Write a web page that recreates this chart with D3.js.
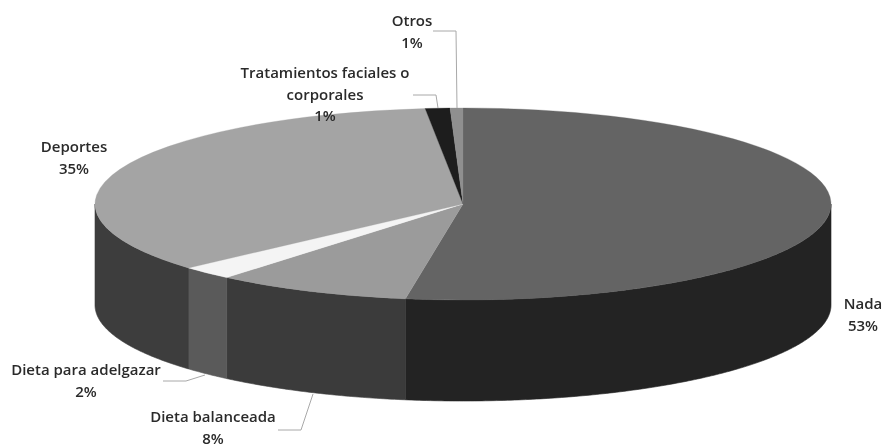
<!DOCTYPE html>
<html>
<head>
<meta charset="utf-8">
<script src="https://cdn.jsdelivr.net/npm/d3@7"></script>
<style>
  html, body { margin: 0; padding: 0; background: #fff; overflow: hidden; }
  svg { display: block; filter: blur(0.5px); }
  text { font-family: "Open Sans", sans-serif; font-size: 15px; font-weight: 600; fill: #2a2a2a; text-anchor: middle; }
</style>
</head>
<body>
<svg width="883" height="448"></svg>
<script>
const categories = ["Nada", "Dieta balanceada", "Dieta para adelgazar", "Deportes", "Tratamientos faciales o corporales", "Otros"];
const values = [52.5, 8.6, 2.3, 34.96, 1.08, 0.56];
const percentLabels = ["53%", "8%", "2%", "35%", "1%", "1%"];
const topColors = ["#646464", "#9b9b9b", "#f4f4f4", "#a4a4a4", "#1d1d1d", "#8f8f8f"];
const sideColors = ["#232323", "#3b3b3b", "#5a5a5a", "#3d3d3d", "#141414", "#333333"];
// label lines are split by hand, same breaks as the picture
const labelLines = [["Nada"], ["Dieta balanceada"], ["Dieta para adelgazar"], ["Deportes"], ["Tratamientos faciales o", "corporales"], ["Otros"]];
const labelPos = [[863, 309], [213, 422], [86, 375], [74, 152], [325, 78], [412, 26]];
const labelGap = 21.5;
const leaders = [
  null,
  [[278, 430], [301, 430], [313, 394]],
  [[163, 381], [186, 381], [205, 375]],
  null,
  [[413, 95], [436, 95], [438, 108]],
  [[433, 31], [456, 31], [457, 108]]
];

const cx = 463, cy = 204, rx = 368, ry = 96, depth = 101;
const svg = d3.select("svg");

const pieData = d3.pie().sort(null).value(d => d)(values);
const ex = a => cx + rx * Math.sin(a);
const ey = a => cy - ry * Math.cos(a);

// side wall: only the part of the rim in the front half (90deg to 270deg)
const wall = d3.area().x(a => ex(a)).y0(a => ey(a)).y1(a => ey(a) + depth);
const sideG = svg.append("g");
pieData.forEach((d, i) => {
  const a0 = Math.max(d.startAngle, Math.PI / 2);
  const a1 = Math.min(d.endAngle, Math.PI * 1.5);
  if (a1 <= a0) return;
  sideG.append("path")
    .attr("d", wall(d3.range(a0, a1, 0.01).concat([a1])))
    .attr("fill", sideColors[i])
    .attr("stroke", sideColors[i])
    .attr("stroke-width", 0.6);
});

// top face: d3.arc squashed into an ellipse
const arc = d3.arc().innerRadius(0).outerRadius(rx);
svg.append("g")
  .attr("transform", `translate(${cx},${cy}) scale(1,${ry / rx})`)
  .selectAll("path")
  .data(pieData)
  .enter()
  .append("path")
  .attr("d", arc)
  .attr("fill", (d, i) => topColors[i])
  .attr("stroke", (d, i) => topColors[i])
  .attr("stroke-width", 0.5);

const leaderLine = d3.line();
leaders.forEach(pts => {
  if (!pts) return;
  svg.append("path").attr("d", leaderLine(pts)).attr("fill", "none").attr("stroke", "#a8a8a8").attr("stroke-width", 1);
});

categories.forEach((c, i) => {
  const t = svg.append("text").attr("x", labelPos[i][0]).attr("y", labelPos[i][1]);
  const lines = labelLines[i].concat([percentLabels[i]]);
  lines.forEach((line, j) => {
    t.append("tspan").attr("x", labelPos[i][0]).attr("dy", j ? labelGap : 0).text(line);
  });
});
</script>
</body>
</html>
